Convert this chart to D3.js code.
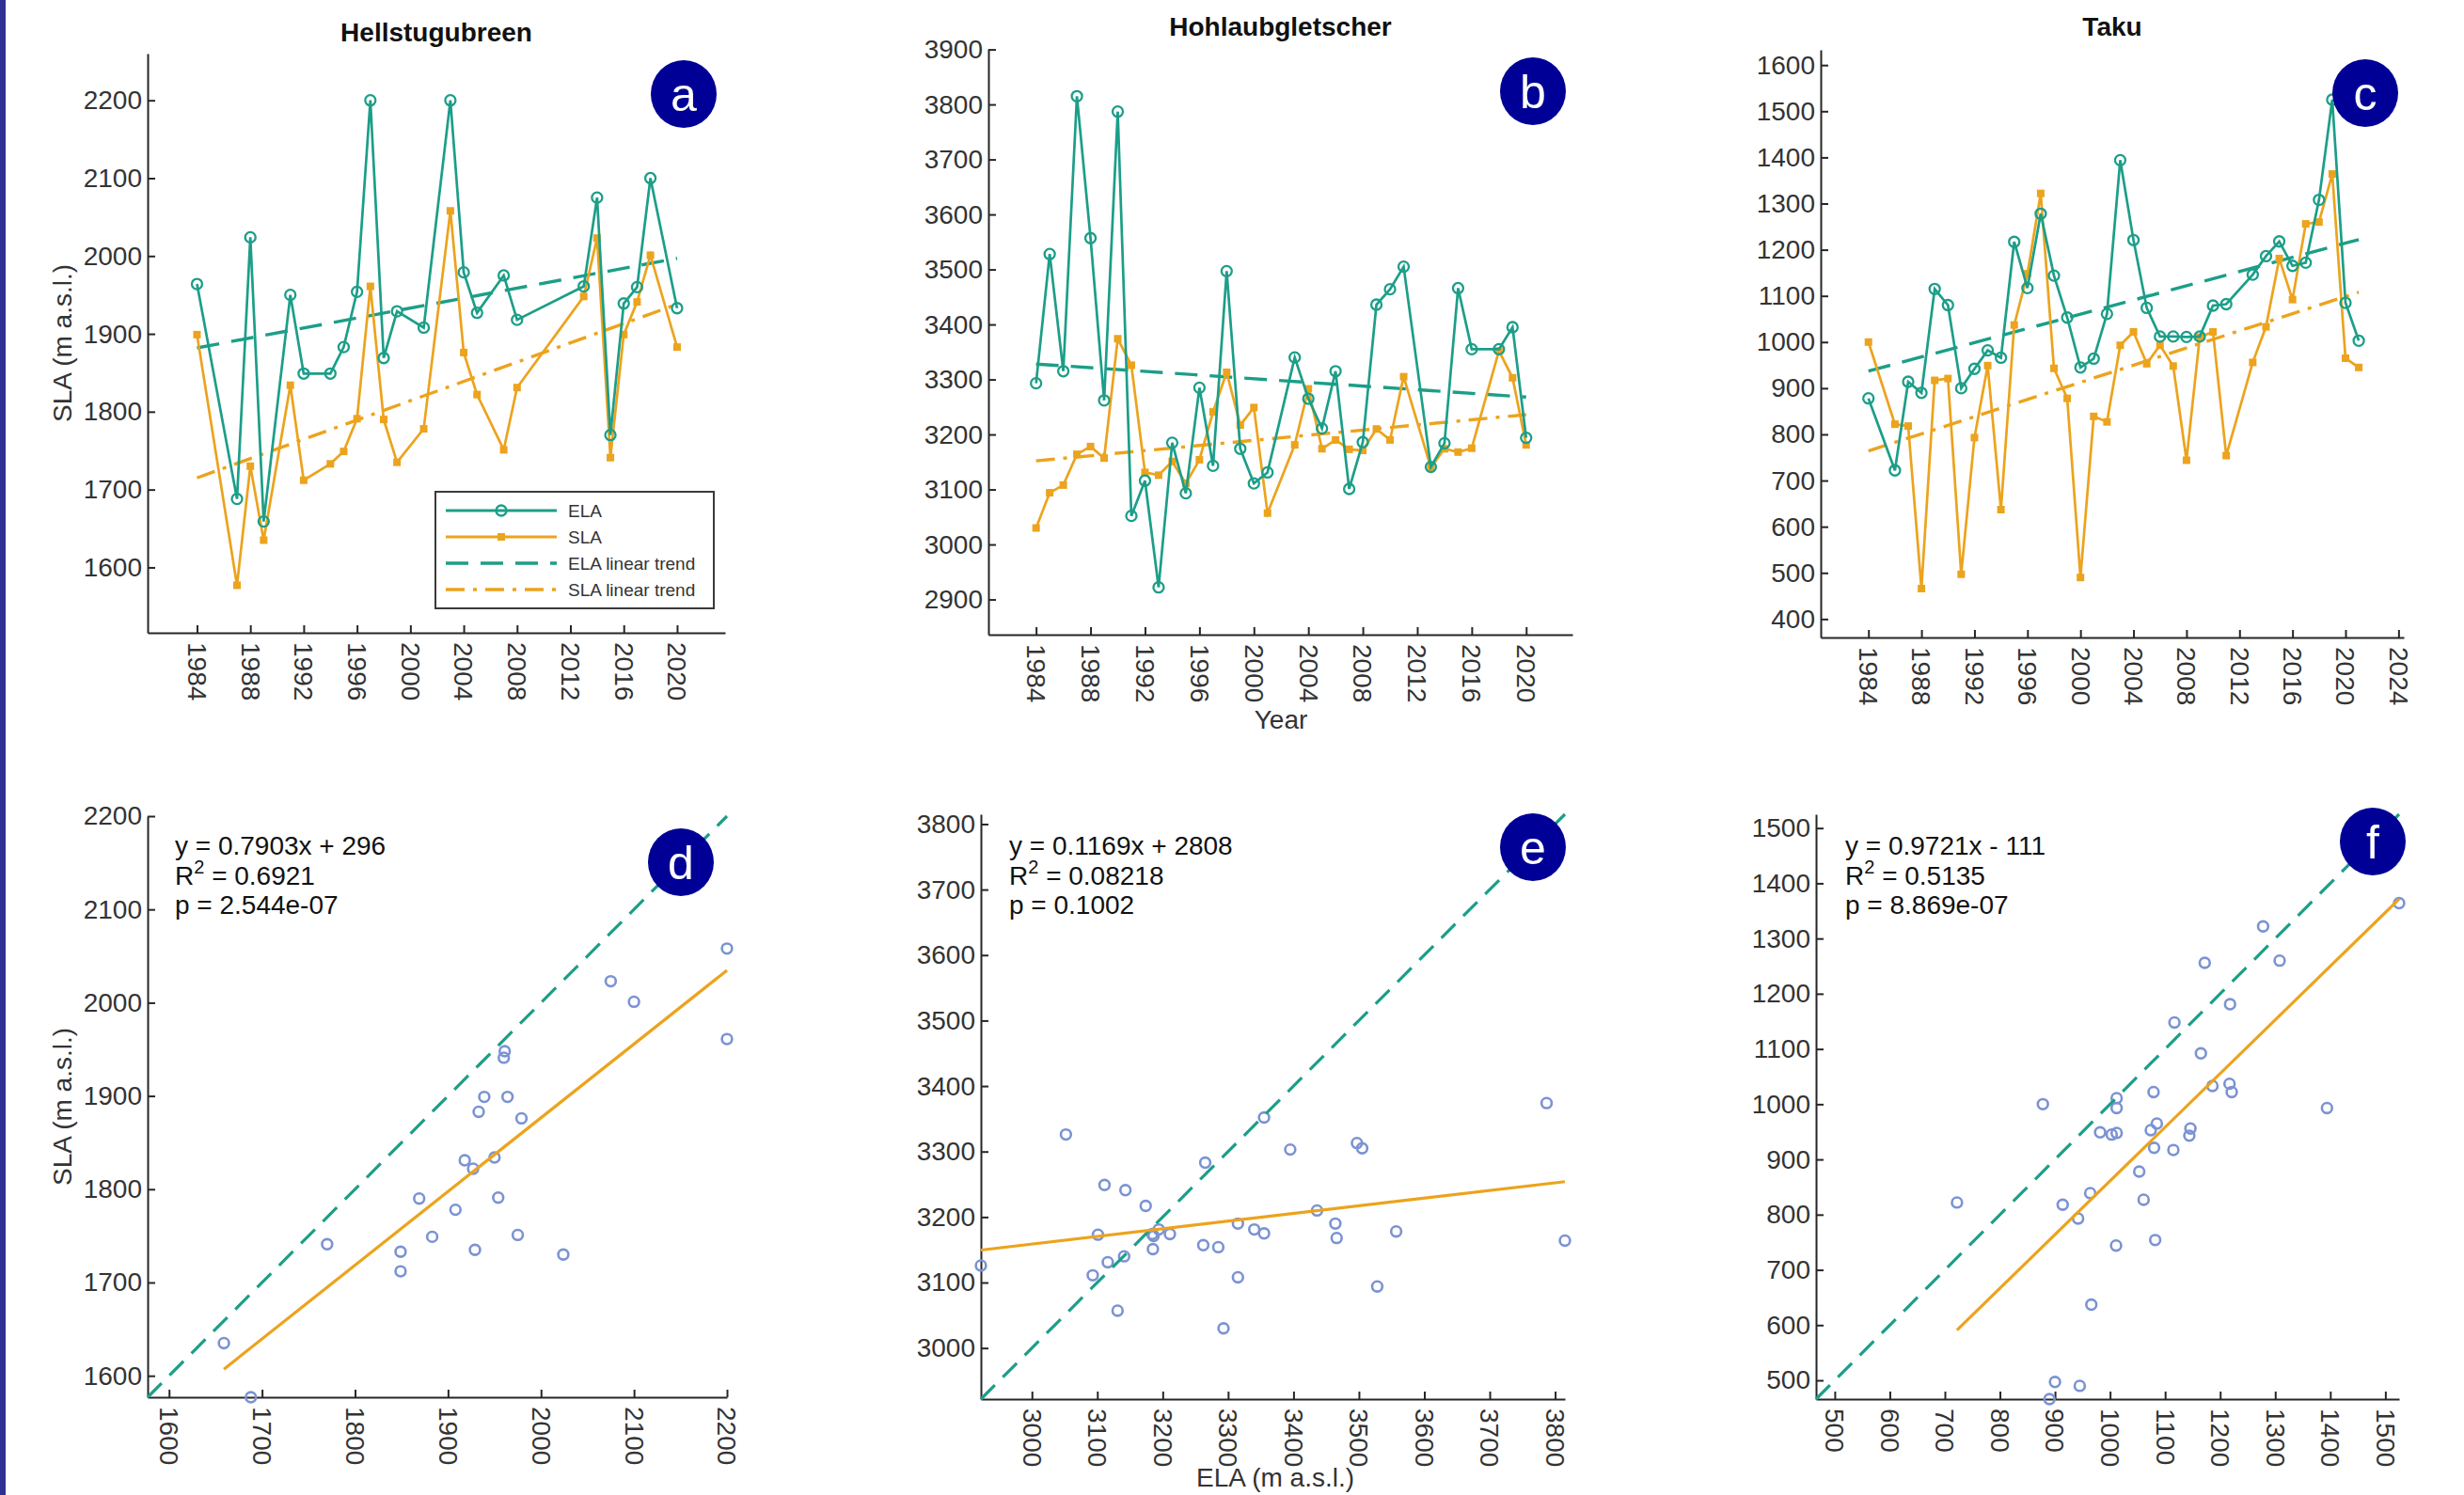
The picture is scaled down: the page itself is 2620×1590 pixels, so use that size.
<!DOCTYPE html>
<html><head><meta charset="utf-8">
<script src="https://cdn.jsdelivr.net/npm/d3@7"></script>
<style>
body{margin:0;background:#fff;}
text{font-family:"Liberation Sans",Arial,Helvetica,sans-serif;}
</style>
</head><body>
<svg id="chart" width="2620" height="1590"></svg>
<script>
// ---------------- DATA ----------------
const glaciers = ["Hellstugubreen", "Hohlaubgletscher", "Taku"];
const panelLetters = ["a", "b", "c", "d", "e", "f"];
const legendLabels = ["ELA", "SLA", "ELA linear trend", "SLA linear trend"];

// Hellstugubreen
const yearsA = [1984,1987,1988,1989,1991,1992,1994,1995,1996,1997,1998,1999,2001,2003,2004,2005,2007,2008,2013,2014,2015,2016,2017,2018,2020];
const elaA   = [1964,1688,2024,1659,1950,1849,1849,1883,1954,2200,1869,1929,1908,2200,1979,1927,1975,1918,1961,2075,1770,1939,1960,2100,1933];
const slaA   = [1899,1577,1730,1635,1834,1712,1733,1749,1791,1961,1790,1735,1778,2058,1876,1822,1751,1831,1948,2023,1741,1899,1941,2001,1883];

// Hohlaubgletscher
const yearsB = [1984,1985,1986,1987,1988,1989,1990,1991,1992,1993,1994,1995,1996,1997,1998,1999,2000,2001,2003,2004,2005,2006,2007,2008,2009,2010,2011,2013,2014,2015,2016,2018,2019,2020];
const elaB   = [3293,3528,3315,3815,3557,3262,3787,3052,3116,2922,3185,3093,3285,3143,3497,3174,3111,3131,3340,3265,3211,3315,3101,3186,3436,3464,3505,3141,3184,3466,3355,3355,3395,3194];
const slaB   = [3030,3094,3108,3164,3178,3157,3374,3326,3131,3126,3151,3111,3154,3241,3313,3217,3249,3057,3181,3283,3174,3190,3173,3171,3210,3190,3305,3140,3174,3168,3175,3352,3303,3181];

// Taku
const yearsC = [1984,1986,1987,1988,1989,1990,1991,1992,1993,1994,1995,1996,1997,1998,1999,2000,2001,2002,2003,2004,2005,2006,2007,2008,2009,2010,2011,2013,2014,2015,2016,2017,2018,2019,2020,2021];
const elaC   = [878,722,914,890,1115,1080,900,942,982,966,1217,1117,1278,1144,1053,945,964,1061,1394,1221,1074,1012,1012,1011,1012,1079,1082,1146,1186,1218,1165,1172,1308,1525,1085,1003];
const slaC   = [1000,822,818,466,917,921,497,793,949,637,1037,1148,1322,943,878,490,839,827,993,1022,953,993,948,744,1011,1022,754,956,1033,1181,1092,1256,1260,1364,965,945];

// linear trends (value at first and last year)
const elaTrendA = [1882, 1997];
const slaTrendA = [1715, 1938];
const elaTrendB = [3328, 3268];
const slaTrendB = [3152, 3236];
const elaTrendC = [937, 1222];
const slaTrendC = [764, 1108];

// axis limits of the time-series panels
const xLimA = [1980.3, 2023.6];
const yLimA = [1516, 2260];
const xLimB = [1980.5, 2023.4];
const yLimB = [2836, 3901];
const xLimC = [1980.4, 2024.4];
const yLimC = [360, 1633];

// tick labels
const yearTicksAB = [1984,1988,1992,1996,2000,2004,2008,2012,2016,2020];
const yearTicksC  = [1984,1988,1992,1996,2000,2004,2008,2012,2016,2020,2024];
const yTicksA = [1600,1700,1800,1900,2000,2100,2200];
const yTicksB = [2900,3000,3100,3200,3300,3400,3500,3600,3700,3800,3900];
const yTicksC = [400,500,600,700,800,900,1000,1100,1200,1300,1400,1500,1600];
const sTicksD = [1600,1700,1800,1900,2000,2100,2200];
const sTicksE = [3000,3100,3200,3300,3400,3500,3600,3700,3800];
const sTicksF = [500,600,700,800,900,1000,1100,1200,1300,1400,1500];

// regression SLA vs ELA
const fitSlope     = [0.7903, 0.1169, 0.9721];
const fitIntercept = [296, 2808, -111];
const fitEqText    = ["y = 0.7903x + 296", "y = 0.1169x + 2808", "y = 0.9721x - 111"];
const fitR2Text    = ["0.6921", "0.08218", "0.5135"];
const fitPText     = ["p = 2.544e-07", "p = 0.1002", "p = 8.869e-07"];

// ---------------- STYLE ----------------
const AX = "#262626";
const ELA_COLOR = "#1c9e88";
const SLA_COLOR = "#eca31d";
const PT_COLOR = "#7b93d3";
const BADGE_COLOR = "#000096";
const TICK_FS = 28;

const svg = d3.select("#chart");
svg.append("rect").attr("width", 2620).attr("height", 1590).attr("fill", "#fff");
svg.append("rect").attr("x", 0).attr("y", 0).attr("width", 6).attr("height", 1590).attr("fill", "#2e3192");

function styleAxis(g) {
  g.select(".domain").attr("stroke", AX).attr("stroke-width", 2);
  g.selectAll(".tick line").attr("stroke", AX).attr("stroke-width", 2);
  g.selectAll(".tick text").attr("fill", "#333").style("font-size", TICK_FS + "px")
    .style("font-family", '"Liberation Sans",Arial,sans-serif');
}

function drawAxes(g, x, y, box, xTicks, yTicks) {
  const [x0, x1, y0, y1] = box;
  const ay = g.append("g").attr("transform", `translate(${x0},0)`)
    .call(d3.axisLeft(y).tickValues(yTicks).tickSize(-8).tickSizeOuter(0).tickPadding(6).tickFormat(d3.format("d")));
  styleAxis(ay);
  const ax = g.append("g").attr("transform", `translate(0,${y1})`)
    .call(d3.axisBottom(x).tickValues(xTicks).tickSize(-8).tickSizeOuter(0).tickFormat(d3.format("d")));
  styleAxis(ax);
  ax.selectAll(".tick text")
    .attr("transform", "rotate(90)").attr("x", 10).attr("y", 0).attr("dy", "0.36em")
    .style("text-anchor", "start");
}

function badge(cx, cy, letter) {
  svg.append("ellipse").attr("cx", cx).attr("cy", cy).attr("rx", 35).attr("ry", 36).attr("fill", BADGE_COLOR);
  svg.append("text").attr("x", cx).attr("y", cy + 18).attr("text-anchor", "middle")
    .attr("fill", "#fff").style("font-size", "50px").text(letter);
}

// ---------------- TIME SERIES PANELS ----------------
const topPanels = [
  {title: glaciers[0], years: yearsA, ela: elaA, sla: slaA, box: [157, 771, 57, 673], xLim: xLimA, yLim: yLimA,
   xTicks: yearTicksAB, yTicks: yTicksA, elaTr: elaTrendA, slaTr: slaTrendA, letter: panelLetters[0], badge: [727, 100], titleY: 44},
  {title: glaciers[1], years: yearsB, ela: elaB, sla: slaB, box: [1051, 1672, 52, 675], xLim: xLimB, yLim: yLimB,
   xTicks: yearTicksAB, yTicks: yTicksB, elaTr: elaTrendB, slaTr: slaTrendB, letter: panelLetters[1], badge: [1630, 97], titleY: 38},
  {title: glaciers[2], years: yearsC, ela: elaC, sla: slaC, box: [1936, 2556, 53, 678], xLim: xLimC, yLim: yLimC,
   xTicks: yearTicksC, yTicks: yTicksC, elaTr: elaTrendC, slaTr: slaTrendC, letter: panelLetters[2], badge: [2515, 99], titleY: 38}
];

topPanels.forEach(p => {
  const [x0, x1, y0, y1] = p.box;
  const x = d3.scaleLinear().domain(p.xLim).range([x0, x1]);
  const y = d3.scaleLinear().domain(p.yLim).range([y1, y0]);
  const g = svg.append("g");
  drawAxes(g, x, y, p.box, p.xTicks, p.yTicks);

  const yFirst = p.years[0], yLast = p.years[p.years.length - 1];
  const line = d3.line().x(d => x(d[0])).y(d => y(d[1]));
  // trends
  g.append("path").attr("d", line([[yFirst, p.elaTr[0]], [yLast, p.elaTr[1]]]))
    .attr("fill", "none").attr("stroke", ELA_COLOR).attr("stroke-width", 3.4).attr("stroke-dasharray", "24,13");
  g.append("path").attr("d", line([[yFirst, p.slaTr[0]], [yLast, p.slaTr[1]]]))
    .attr("fill", "none").attr("stroke", SLA_COLOR).attr("stroke-width", 3.4).attr("stroke-dasharray", "20,9,4,9");

  const elaPts = p.years.map((yr, i) => [yr, p.ela[i]]);
  const slaPts = p.years.map((yr, i) => [yr, p.sla[i]]);
  g.append("path").attr("d", line(slaPts)).attr("fill", "none").attr("stroke", SLA_COLOR).attr("stroke-width", 2.7);
  g.selectAll(null).data(slaPts).enter().append("rect")
    .attr("x", d => x(d[0]) - 4).attr("y", d => y(d[1]) - 4).attr("width", 8).attr("height", 8)
    .attr("fill", SLA_COLOR);
  g.append("path").attr("d", line(elaPts)).attr("fill", "none").attr("stroke", ELA_COLOR).attr("stroke-width", 2.7);
  g.selectAll(null).data(elaPts).enter().append("circle")
    .attr("cx", d => x(d[0])).attr("cy", d => y(d[1])).attr("r", 5.5)
    .attr("fill", "none").attr("stroke", ELA_COLOR).attr("stroke-width", 2.3);

  svg.append("text").attr("x", (x0 + x1) / 2).attr("y", p.titleY).attr("text-anchor", "middle")
    .style("font-size", "28px").style("font-weight", "bold").attr("fill", "#111").text(p.title);
  badge(p.badge[0], p.badge[1], p.letter);
});

// legend in panel a
(function legend() {
  const g = svg.append("g");
  g.append("rect").attr("x", 463).attr("y", 523).attr("width", 296).attr("height", 124)
    .attr("fill", "#fff").attr("stroke", "#3a3a3a").attr("stroke-width", 2);
  const rows = [543, 571, 599, 627];
  const lx0 = 474, lx1 = 592, mx = 533;
  g.append("line").attr("x1", lx0).attr("x2", lx1).attr("y1", rows[0]).attr("y2", rows[0]).attr("stroke", ELA_COLOR).attr("stroke-width", 3);
  g.append("circle").attr("cx", mx).attr("cy", rows[0]).attr("r", 5.5).attr("fill", "none").attr("stroke", ELA_COLOR).attr("stroke-width", 2.3);
  g.append("line").attr("x1", lx0).attr("x2", lx1).attr("y1", rows[1]).attr("y2", rows[1]).attr("stroke", SLA_COLOR).attr("stroke-width", 3);
  g.append("rect").attr("x", mx - 4).attr("y", rows[1] - 4).attr("width", 8).attr("height", 8).attr("fill", SLA_COLOR);
  g.append("line").attr("x1", lx0).attr("x2", lx1).attr("y1", rows[2]).attr("y2", rows[2]).attr("stroke", ELA_COLOR).attr("stroke-width", 3.4).attr("stroke-dasharray", "24,13");
  g.append("line").attr("x1", lx0).attr("x2", lx1).attr("y1", rows[3]).attr("y2", rows[3]).attr("stroke", SLA_COLOR).attr("stroke-width", 3.4).attr("stroke-dasharray", "20,9,4,9");
  legendLabels.forEach((t, i) => {
    g.append("text").attr("x", 604).attr("y", rows[i]).attr("dy", "0.36em")
      .style("font-size", "19px").attr("fill", "#333").text(t);
  });
})();

// axis titles of top row
svg.append("text").attr("transform", "translate(76,365) rotate(-90)").attr("text-anchor", "middle")
  .style("font-size", "28px").attr("fill", "#333").text("SLA (m a.s.l.)");
svg.append("text").attr("x", 1362).attr("y", 775).attr("text-anchor", "middle")
  .style("font-size", "28px").attr("fill", "#333").text("Year");

// ---------------- SCATTER PANELS ----------------
const botPanels = [
  {ela: elaA, sla: slaA, box: [157, 773, 868, 1486], ticks: sTicksD, k: 0, letter: panelLetters[3], badge: [724, 917], tx: 186},
  {ela: elaB, sla: slaB, box: [1043, 1664, 866, 1488], ticks: sTicksE, k: 1, letter: panelLetters[4], badge: [1630, 901], tx: 1073},
  {ela: elaC, sla: slaC, box: [1931, 2551, 866, 1488], ticks: sTicksF, k: 2, letter: panelLetters[5], badge: [2523, 895], tx: 1962}
];

botPanels.forEach(p => {
  const [x0, x1, y0, y1] = p.box;
  const ext = d3.extent(p.ela.concat(p.sla));
  const x = d3.scaleLinear().domain(ext).range([x0, x1]);
  const y = d3.scaleLinear().domain(ext).range([y1, y0]);
  const g = svg.append("g");
  drawAxes(g, x, y, p.box, p.ticks, p.ticks);

  const pts = p.ela.map((e, i) => [e, p.sla[i]]);
  g.selectAll(null).data(pts).enter().append("circle")
    .attr("cx", d => x(d[0])).attr("cy", d => y(d[1])).attr("r", 5.4)
    .attr("fill", "none").attr("stroke", PT_COLOR).attr("stroke-width", 2.6);

  const line = d3.line().x(d => x(d[0])).y(d => y(d[1]));
  g.append("path").attr("d", line([[ext[0], ext[0]], [ext[1], ext[1]]]))
    .attr("fill", "none").attr("stroke", ELA_COLOR).attr("stroke-width", 3.2).attr("stroke-dasharray", "21,12");
  const eExt = d3.extent(p.ela);
  const a = fitSlope[p.k], b = fitIntercept[p.k];
  g.append("path").attr("d", line([[eExt[0], a * eExt[0] + b], [eExt[1], a * eExt[1] + b]]))
    .attr("fill", "none").attr("stroke", SLA_COLOR).attr("stroke-width", 3.2);

  const t = svg.append("g").attr("fill", "#111").style("font-size", "28px");
  t.append("text").attr("x", p.tx).attr("y", 909).text(fitEqText[p.k]);
  const r2 = t.append("text").attr("x", p.tx).attr("y", 941);
  r2.append("tspan").text("R");
  r2.append("tspan").attr("dy", -12).style("font-size", "20px").text("2");
  r2.append("tspan").attr("dy", 12).text(" = " + fitR2Text[p.k]);
  t.append("text").attr("x", p.tx).attr("y", 972).text(fitPText[p.k]);

  badge(p.badge[0], p.badge[1], p.letter);
});

svg.append("text").attr("transform", "translate(76,1177) rotate(-90)").attr("text-anchor", "middle")
  .style("font-size", "28px").attr("fill", "#333").text("SLA (m a.s.l.)");
svg.append("text").attr("x", 1356).attr("y", 1581).attr("text-anchor", "middle")
  .style("font-size", "28px").attr("fill", "#333").text("ELA (m a.s.l.)");
</script>
</body></html>
